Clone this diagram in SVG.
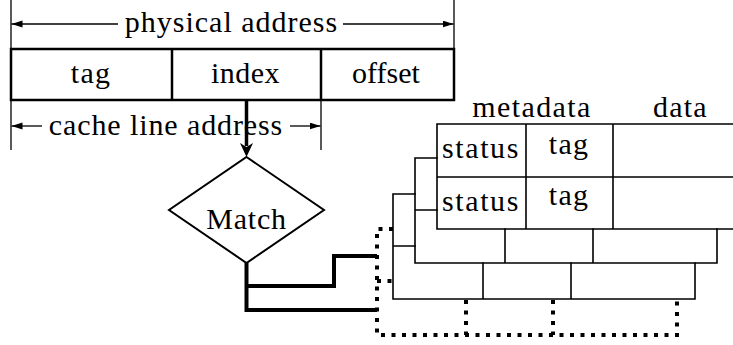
<svg xmlns="http://www.w3.org/2000/svg" width="733" height="345" viewBox="0 0 733 345">
  <style>
    .mid { text-anchor: middle; }
    .thin { fill: none; stroke: #000; stroke-width: 1.3; }
    .box { fill: #fff; stroke: #000; stroke-width: 2.5; }
    .frame { fill: none; stroke: #000; stroke-width: 1.6; stroke-linecap: square; }
    .bus { fill: none; stroke: #000; stroke-width: 4; stroke-linejoin: miter; }
    .dots { fill: none; stroke: #000; stroke-width: 4; stroke-dasharray: 4 6.5; }
  </style>
  <defs>
    <marker id="tip" markerUnits="userSpaceOnUse" markerWidth="12" markerHeight="8" refX="11" refY="3.5" orient="auto">
      <path d="M0,0 L11,3.5 L0,7 z" fill="#000"/>
    </marker>
    <marker id="stealth" markerUnits="userSpaceOnUse" markerWidth="16" markerHeight="15" refX="3" refY="6.5" orient="auto">
      <path d="M0,0 L14,6.5 L0,13 L4,6.5 z" fill="#000"/>
    </marker>
  </defs>

  <!-- physical address split into fields -->
  <g id="address">
    <rect class="box" x="11" y="49" width="443" height="51"/>
    <line x1="172" y1="49" x2="172" y2="100" stroke="#000" stroke-width="2.5"/>
    <line x1="321" y1="49" x2="321" y2="100" stroke="#000" stroke-width="2.5"/>
    <text class="mid" x="91" y="83" style="font-family:'Liberation Serif',serif;font-size:30px;letter-spacing:1.2px">tag</text>
    <text class="mid" x="245.5" y="83" style="font-family:'Liberation Serif',serif;font-size:30px;letter-spacing:0.5px">index</text>
    <text class="mid" x="386" y="83" style="font-family:'Liberation Serif',serif;font-size:30px">offset</text>
  </g>

  <!-- span labels -->
  <g id="physical-span">
    <line class="thin" x1="11" y1="0" x2="11" y2="150"/>
    <line class="thin" x1="454" y1="0" x2="454" y2="49"/>
    <line class="thin" x1="118" y1="24" x2="11.5" y2="24" marker-end="url(#tip)"/>
    <line class="thin" x1="343" y1="24" x2="453.5" y2="24" marker-end="url(#tip)"/>
    <text class="mid" x="231.5" y="32" style="font-family:'Liberation Serif',serif;font-size:30px;letter-spacing:1px">physical address</text>
  </g>
  <g id="line-span">
    <line class="thin" x1="321" y1="100" x2="321" y2="150"/>
    <line class="thin" x1="42" y1="126" x2="11.5" y2="126" marker-end="url(#tip)"/>
    <line class="thin" x1="290" y1="126" x2="320.5" y2="126" marker-end="url(#tip)"/>
    <text class="mid" x="166" y="135" style="font-family:'Liberation Serif',serif;font-size:30px;letter-spacing:0.9px">cache line address</text>
  </g>

  <!-- tag comparison -->
  <g id="match">
    <path d="M246.5,157 L324,210 L246.5,263 L169,210 z" fill="#fff" stroke="#000" stroke-width="2"/>
    <text class="mid" x="246.5" y="229" style="font-family:'Liberation Serif',serif;font-size:30px;letter-spacing:0.8px">Match</text>
  </g>

  <!-- cache ways, stacked back to front -->
  <g id="way-3">
    <path class="frame" d="M393,194 H415 M393,246 H415 M393,194 V299 H695 V263 M483,263 V299 M571,263 V299"/>
  </g>
  <g id="way-2">
    <path class="frame" d="M415,158 H437 M415,210 H437 M415,158 V263 H717 V229 M505,229 V263 M593,229 V263"/>
  </g>
  <g id="way-1">
    <path class="frame" d="M740,124 H437 V229 H740 M437,177 H740 M526,124 V229 M613,124 V229"/>
    <text class="mid" x="532" y="117" style="font-family:'Liberation Serif',serif;font-size:30px;letter-spacing:1.4px">metadata</text>
    <text class="mid" x="680.5" y="117" style="font-family:'Liberation Serif',serif;font-size:30px;letter-spacing:1.2px">data</text>
    <text class="mid" x="481" y="158" style="font-family:'Liberation Serif',serif;font-size:30px;letter-spacing:1.6px">status</text>
    <text class="mid" x="569" y="154" style="font-family:'Liberation Serif',serif;font-size:30px;letter-spacing:1.2px">tag</text>
    <text class="mid" x="481" y="211" style="font-family:'Liberation Serif',serif;font-size:30px;letter-spacing:1.6px">status</text>
    <text class="mid" x="569" y="205" style="font-family:'Liberation Serif',serif;font-size:30px;letter-spacing:1.2px">tag</text>
  </g>
  <g id="way-more">
    <path class="dots" d="M393,229 H377 V335 H677 V300 M377,281 H393 M466,300 V335 M553,300 V335"/>
  </g>

  <!-- connectors -->
  <g id="connectors">
    <line x1="246.5" y1="100" x2="246.5" y2="146" stroke="#000" stroke-width="3.5" marker-end="url(#stealth)"/>
    <path class="bus" d="M246.5,263 V310 H377"/>
    <path class="bus" d="M246.5,286 H334 V256 H377"/>
  </g>
</svg>
